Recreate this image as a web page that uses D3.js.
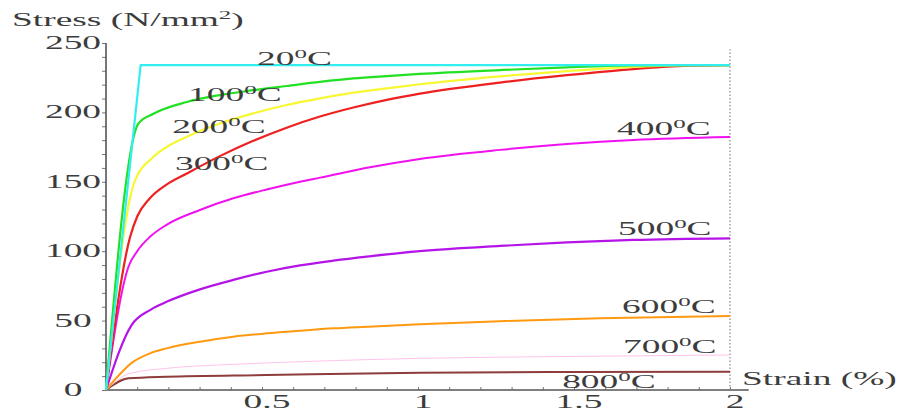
<!DOCTYPE html>
<html>
<head>
<meta charset="utf-8">
<script src="https://cdn.jsdelivr.net/npm/d3@7"></script>
<style>
  html, body { margin: 0; padding: 0; background: #fff; }
  svg { display: block; }
  .lbl { font-family: 'Liberation Serif', 'Times New Roman', serif; font-size: 18px; fill: #3c3c3c; }
</style>
</head>
<body>
<svg id="chart" width="903" height="411"></svg>
<script>
(function () {

    'use strict'

    // temperatures (deg C) of each curve
    const temps = ['20', '100', '200', '300', '400', '500', '600', '700', '800']

    // strain (%) / stress (N/mm2), one pair per curve
    const strain20 = [0, 0.111, 2]
    const stress20 = [0, 234, 234]

    const strain100 = [0, 0.104, 0.152, 0.259, 0.365, 0.472, 0.579, 0.686, 0.793, 0.9, 1.006, 1.263, 1.477, 1.68, 1.85, 2]
    const stress100 = [0, 192, 199, 207.5, 212.5, 216, 219, 222, 224.5, 226.2, 227.7, 230.5, 232.5, 233.8, 234, 234]

    const strain200 = [0, 0.09, 0.152, 0.205, 0.259, 0.365, 0.472, 0.579, 0.686, 0.793, 0.9, 1.006, 1.263, 1.477, 1.75, 1.9, 2]
    const stress200 = [0, 149, 168, 176.5, 182.5, 192, 199.3, 205.3, 210.1, 214.2, 217.3, 220.3, 226, 229.8, 233.4, 234, 234]

    const strain300 = [0, 0.077, 0.1, 0.14, 0.194, 0.259, 0.365, 0.472, 0.579, 0.686, 0.793, 0.9, 1.006, 1.263, 1.477, 1.65, 1.85, 2]
    const stress300 = [0, 110, 125, 138, 148, 156, 168.5, 179.5, 189, 197, 203.5, 209, 213.5, 221.5, 226.8, 230.5, 233.5, 234]

    const strain400 = [0, 0.072, 0.1, 0.141, 0.194, 0.301, 0.408, 0.515, 0.622, 0.686, 0.846, 1.006, 1.263, 1.477, 1.69, 2]
    const stress400 = [0, 88.8, 100, 110.4, 119, 129.7, 138.1, 144.5, 150.1, 153, 160.5, 166.5, 173, 177.2, 180.2, 182.3]

    const strain500 = [0, 0.082, 0.141, 0.194, 0.301, 0.408, 0.515, 0.622, 0.729, 0.836, 1.006, 1.263, 1.477, 1.69, 2]
    const stress500 = [0, 46.8, 57.6, 63.5, 72.5, 79.3, 85.2, 89.8, 93.2, 96.1, 100, 103.8, 106.3, 108.1, 109.3]

    const strain600 = [0, 0.088, 0.141, 0.194, 0.301, 0.408, 0.515, 0.622, 0.729, 0.836, 1.006, 1.263, 1.583, 2]
    const stress600 = [0, 20.4, 26.4, 30, 34.8, 38.4, 40.8, 42.7, 44.4, 45.6, 47.4, 49.6, 51.7, 53.3]

    const strain700 = [0, 0.077, 0.194, 0.408, 0.622, 1.006, 1.5, 2]
    const stress700 = [0, 12, 15.6, 18.5, 20.4, 22.8, 24.2, 25.2]

    const strain800 = [0, 0.072, 0.194, 0.515, 1.006, 1.5, 2]
    const stress800 = [0, 8.4, 9.6, 10.8, 12.5, 13, 13.2]

    const strains = [strain20, strain100, strain200, strain300, strain400, strain500, strain600, strain700, strain800]
    const stresses = [stress20, stress100, stress200, stress300, stress400, stress500, stress600, stress700, stress800]

    // tick values / labels
    const xTickLabels = ['0.5', '1', '1.5', '2']
    const yTickLabels = ['0', '50', '100', '150', '200', '250']

    // label anchors (strain, stress) for each curve name
    const labelAt = [[0.484, 234], [0.263, 208], [0.212, 185], [0.221, 158.5], [1.638, 183.5],
        [1.641, 111.5], [1.654, 55.5], [1.657, 26.5], [1.462, 1.4]]

    const colors = ['#33eeee', '#22e022', '#f7f734', '#ee2020', '#f010f0', '#b514e8', '#ff9a10', '#ffc4ec', '#8e3c3c']
    const widths = [2.2, 2.2, 2.2, 2.2, 2, 2.2, 2, 1, 2]

    const sx = 2.08 // the picture's text is stretched sideways

    const svg = d3.select('#chart')

    const xScale = d3.scaleLinear().domain([0, 2]).range([106, 730])
    const yScale = d3.scaleLinear().domain([0, 250]).range([390, 43])

    // x axis (minor ticks every 0.1)
    const xAxis = svg.append('g')
        .attr('transform', 'translate(0,' + yScale(0) + ')')
        .call(d3.axisBottom(xScale).tickValues(d3.range(0, 21).map(i => i / 10)).tickSize(-3).tickFormat(''))
    xAxis.select('.domain').remove()
    xAxis.selectAll('line').attr('stroke', '#777')
    xAxis.append('line')
        .attr('x1', xScale(0)).attr('x2', xScale(2.06))
        .attr('stroke', '#555').attr('stroke-width', 1.4)

    // y axis (minor ticks every 10)
    const yAxis = svg.append('g')
        .attr('transform', 'translate(' + xScale(0) + ',0)')
        .call(d3.axisLeft(yScale).tickValues(d3.range(0, 251, 10)).tickSize(4).tickFormat(''))
    yAxis.select('.domain').remove()
    yAxis.selectAll('line').attr('stroke', '#777')
    yAxis.append('line')
        .attr('y1', yScale(0)).attr('y2', yScale(250))
        .attr('stroke', '#555').attr('stroke-width', 1.6)

    // dotted line at 2 %
    svg.append('line')
        .attr('x1', xScale(2)).attr('x2', xScale(2))
        .attr('y1', yScale(0)).attr('y2', yScale(245.5))
        .attr('stroke', '#888').attr('stroke-width', 1.2)
        .attr('stroke-dasharray', '1.5,2')

    function stretched(x, y, anchor) {
        return svg.append('text')
            .attr('class', 'lbl')
            .attr('text-anchor', anchor)
            .attr('transform', 'translate(' + x + ',' + y + ') scale(' + sx + ',1)')
    }

    // tick labels
    yTickLabels.forEach(t => {
        stretched(73, yScale(+t) + 6, 'middle').text(t)
    })
    xTickLabels.forEach(t => {
        stretched(xScale(+t) + 5, 408, 'middle').text(t)
    })

    // curves, hottest first so 20C sits on top
    const line = d3.line()
        .x(d => xScale(d[0]))
        .y(d => yScale(d[1]))

    for (let i = temps.length - 1; i >= 0; i--) {
        const pts = strains[i].map((s, j) => [s, stresses[i][j]])
        svg.append('path')
            .datum(pts)
            .attr('d', line.curve(i === 0 ? d3.curveLinear : d3.curveMonotoneX))
            .attr('fill', 'none')
            .attr('stroke', colors[i])
            .attr('stroke-width', widths[i])
            .attr('stroke-linejoin', 'round')
    }

    // curve names
    temps.forEach((t, i) => {
        const txt = stretched(xScale(labelAt[i][0]), yScale(labelAt[i][1]), 'start')
        txt.append('tspan').text(t)
        txt.append('tspan').attr('font-size', 12).attr('dy', -7).text('0')
        txt.append('tspan').attr('dy', 7).text('C')
    })

    // axis titles
    const yTitle = stretched(12, 26, 'start')
    yTitle.append('tspan').text('Stress (N/mm')
    yTitle.append('tspan').attr('font-size', 12).attr('dy', -7).text('2')
    yTitle.append('tspan').attr('dy', 7).text(')')

    stretched(742, 385, 'start').text('Strain (%)')
})()
</script>
</body>
</html>
